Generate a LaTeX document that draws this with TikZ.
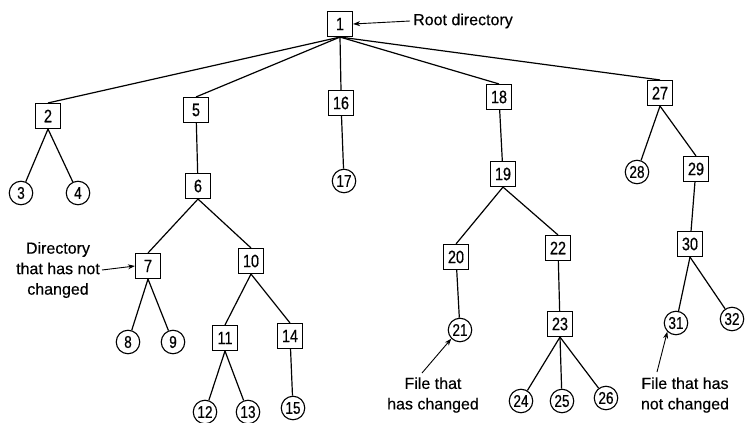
\documentclass[tikz,border=0pt]{standalone}
\usepackage{fontspec}
\setmainfont{Liberation Sans}[FakeBold=0.4]
\newfontfamily\digfont{Liberation Sans}[FakeStretch=0.8,FakeBold=0.5]
\usetikzlibrary{arrows.meta}
\begin{document}
\begin{tikzpicture}[x=1pt,y=-1pt,
  dirbox/.style={draw,line width=1.1pt,minimum width=25pt,minimum height=25pt,inner sep=0pt,font=\digfont\fontsize{18}{18}\selectfont},
  filec/.style={draw,circle,line width=1.1pt,minimum size=23.5pt,inner sep=0pt,font=\digfont\fontsize{17}{17}\selectfont},
  edge/.style={line width=1.2pt},
  lab/.style={font=\fontsize{16}{20.5}\selectfont,align=center,inner sep=0pt},
  pointer/.style={line width=0.9pt,-{Stealth[length=7pt,width=5pt]}}]
\useasboundingbox (0,0) rectangle (745,423);
% directories
\node[dirbox] (n1) at (340,24) {1};
\node[dirbox] (n2) at (48,116) {2};
\node[dirbox] (n5) at (196,110) {5};
\node[dirbox] (n16) at (341,103) {16};
\node[dirbox] (n18) at (499,97) {18};
\node[dirbox] (n27) at (660,93) {27};
\node[dirbox] (n6) at (198,186) {6};
\node[dirbox] (n19) at (503,174) {19};
\node[dirbox] (n29) at (696,169) {29};
\node[dirbox] (n7) at (148,266) {7};
\node[dirbox] (n10) at (251,261) {10};
\node[dirbox] (n20) at (456,257) {20};
\node[dirbox] (n22) at (558,248) {22};
\node[dirbox] (n30) at (690,244) {30};
\node[dirbox] (n11) at (225,338) {11};
\node[dirbox] (n14) at (290,336) {14};
\node[dirbox] (n23) at (560,324) {23};
% files
\node[filec] (n3) at (21,193) {3};
\node[filec] (n4) at (78,193) {4};
\node[filec] (n17) at (344,181) {17};
\node[filec] (n28) at (637,172) {28};
\node[filec] (n8) at (128,342) {8};
\node[filec] (n9) at (173,342) {9};
\node[filec] (n21) at (460,330) {21};
\node[filec] (n31) at (676,323) {31};
\node[filec] (n32) at (732,319) {32};
\node[filec] (n12) at (205,412) {12};
\node[filec] (n13) at (248,412) {13};
\node[filec] (n15) at (293,408) {15};
\node[filec] (n24) at (521,401) {24};
\node[filec] (n25) at (562,401) {25};
\node[filec] (n26) at (606,398) {26};
% edges
\foreach \c in {n2,n5,n16,n18,n27} \draw[edge] (n1.south) -- (\c.north);
\draw[edge] (n2.south) -- (n3);
\draw[edge] (n2.south) -- (n4);
\draw[edge] (n5) -- (n6);
\draw[edge] (n16) -- (n17);
\draw[edge] (n18) -- (n19);
\draw[edge] (n27.south) -- (n28);
\draw[edge] (n27.south) -- (n29.north);
\draw[edge] (n6.south) -- (n7.north);
\draw[edge] (n6.south) -- (n10.north);
\draw[edge] (n19.south) -- (n20.north);
\draw[edge] (n19.south) -- (n22.north);
\draw[edge] (n29) -- (n30);
\draw[edge] (n7.south) -- (n8);
\draw[edge] (n7.south) -- (n9);
\draw[edge] (n10.south) -- (n11.north);
\draw[edge] (n10.south) -- (n14.north);
\draw[edge] (n20) -- (n21);
\draw[edge] (n22) -- (n23);
\draw[edge] (n30.south) -- (n31);
\draw[edge] (n30.south) -- (n32);
\draw[edge] (n11.south) -- (n12);
\draw[edge] (n11.south) -- (n13);
\draw[edge] (n14) -- (n15);
\draw[edge] (n23.south) -- (n24);
\draw[edge] (n23.south) -- (n25);
\draw[edge] (n23.south) -- (n26);
% labels
\node[lab,anchor=west] (lroot) at (413,21) {Root directory};
\draw[pointer] (lroot.west) ++(-3,0) -- (n1.east);
\node[lab] (ldir) at (58,270) {Directory\\that has not\\changed};
\draw[pointer] (ldir.east) ++(2,0) -- (n7.west);
\node[lab] (lchg) at (433,395) {File that\\has changed};
\coordinate (a1) at (422,373);
\draw[pointer] (a1) -- (n21.south west);
\node[lab] (lnot) at (685,395) {File that has\\not changed};
\coordinate (a2) at (657,372);
\draw[pointer] (a2) -- (n31.south west);
\end{tikzpicture}
\end{document}
